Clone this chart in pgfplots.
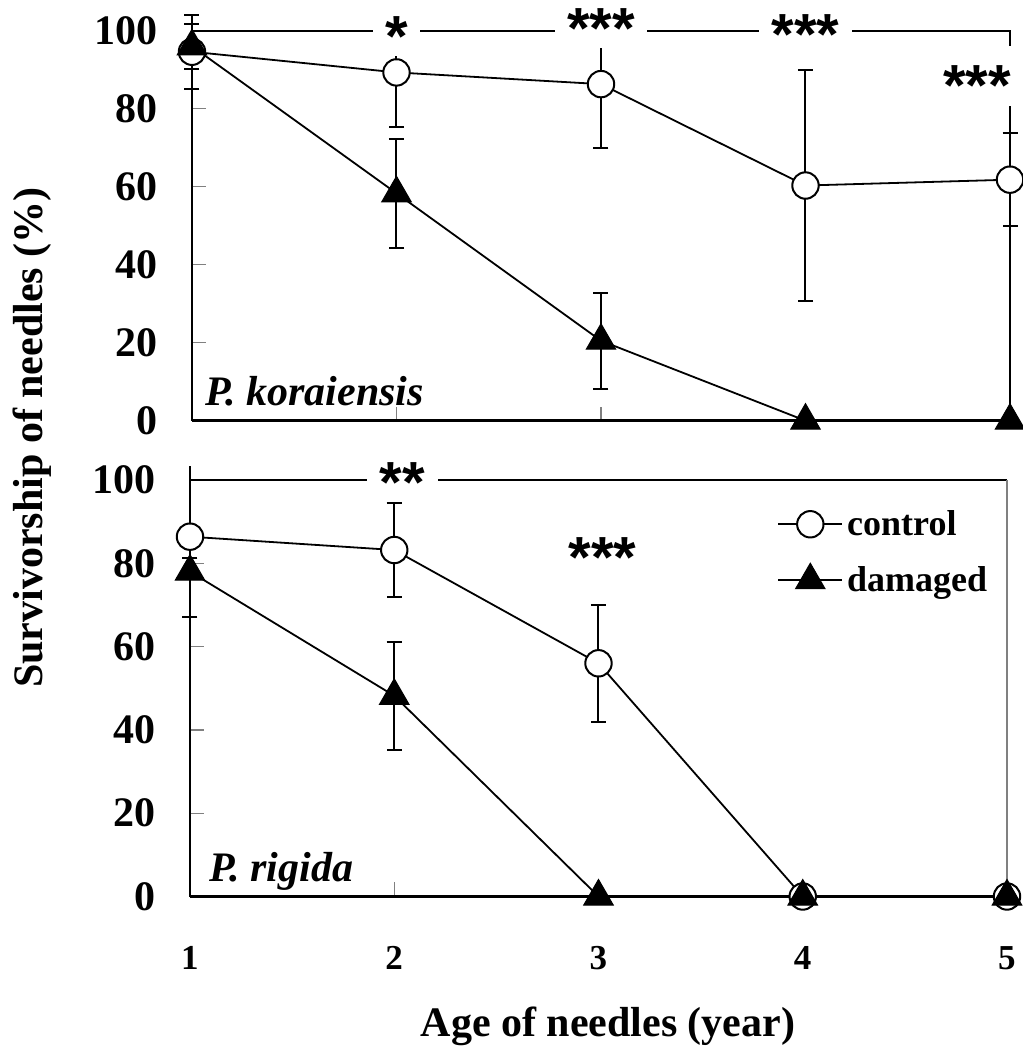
\documentclass[border=0pt]{standalone}
\usepackage{fontspec}
\setmainfont{Liberation Serif}
\newfontfamily\astfont{Liberation Sans}
\usepackage{pgfplots}
\pgfplotsset{compat=1.18}

\pgfplotsset{
  panel/.style={
    scale only axis, width=408.5pt, xmin=1, xmax=5, ymin=0,
    axis lines=left, axis line style={-, line width=1.2pt},
    tick align=inside, xtick={1,2,3,4,5}, ytick={0,20,40,60,80,100},
    xtick pos=left, ytick pos=left,
    tick style={gray, line width=0.6pt},
    major tick length=7pt,
    clip=false,
    /pgf/number format/assume math mode=true,
    yticklabel style={font=\fontsize{21}{25}\selectfont\bfseries, anchor=east, inner sep=0pt, xshift=-17pt},
    xticklabel style={font=\fontsize{17.5}{20}\selectfont\bfseries, anchor=base, inner sep=0pt, yshift=-36.4pt},
  },
  ctrl/.style={black, line width=0.9pt, mark=*, mark size=6.6pt,
    mark options={fill=white, draw=black, line width=1pt},
    legend image code/.code={\draw[mark repeat=2,mark phase=2,##1] plot coordinates {(0pt,0pt)(16pt,0pt)(32pt,0pt)};},
    error bars/.cd, y dir=both, y explicit,
    error bar style={line width=1pt, black},
    error mark options={rotate=90, line width=1pt, mark size=3.75pt, black}},
  dmg/.style={black, line width=0.9pt, mark=triangle*, mark size=8.5pt,
    mark options={fill=black, draw=black, line width=0.5pt},
    legend image code/.code={\draw[mark repeat=2,mark phase=2,##1] plot coordinates {(0pt,0pt)(16pt,0pt)(32pt,0pt)};},
    error bars/.cd, y dir=both, y explicit,
    error bar style={line width=1pt, black},
    error mark options={rotate=90, line width=1pt, mark size=3.75pt, black}},
}
\tikzset{
  ast/.style={font=\astfont\bfseries\fontsize{29}{30}\selectfont, fill=white,
    inner xsep=6.3pt, inner ysep=0pt, text height=30pt, text depth=0pt, yshift=1.3pt},
}

\begin{document}
\begin{tikzpicture}
\useasboundingbox (-95pt,-76.75pt) rectangle (416.5pt,448.25pt);

% ---------------- top panel: P. koraiensis ----------------
\begin{axis}[panel, at={(1pt,237.9pt)}, anchor=south west,
  width=409pt, height=195pt, ymax=100, xticklabels={}]
\draw[line width=0.9pt] (axis cs:1,100) -| (axis cs:5,0);
\addplot[ctrl] coordinates {
  (1,94.6) +- (0,9.5)
  (2,89.3) +- (0,14)
  (3,86.3) +- (0,16.5)
  (4,60.3) +- (0,29.5)
  (5,61.8) +- (0,12)
};
\addplot[dmg] coordinates {
  (1,96) +- (0,5.7)
  (2,58.3) +- (0,14)
  (3,20.5) +- (0,12.3)
  (4,0) +- (0,0)
  (5,0) +- (0,0)
};
\node[ast] at (axis cs:2,100.5) {*};
\node[ast] at (axis cs:3,102.5) {***};
\node[ast] at (axis cs:4,101) {***};
\node[ast] at (axis cs:4.84,87.8) {***};
\node[anchor=base west, font=\fontsize{21}{25}\selectfont\bfseries\itshape] at (axis cs:1.03,3.8) {P. koraiensis};
\end{axis}

% ---------------- bottom panel: P. rigida ----------------
\begin{axis}[panel, at={(0pt,0pt)}, anchor=south west,
  height=215.3pt, ymax=103.4,
  xticklabels={1,2,3,4,5},
  legend style={draw=none, fill=none, at={(axis cs:3.874,93.8)}, anchor=north west,
    font=\fontsize{18}{20}\selectfont\bfseries, row sep=10pt, inner sep=0pt,
    nodes={inner sep=2pt}},
  legend cell align=left]
\draw[line width=0.6pt] (axis cs:1,100) -- (axis cs:5,100);
\draw[gray, line width=0.6pt] (axis cs:5,100) -- (axis cs:5,0);
\addplot[ctrl] coordinates {
  (1,86.4) += (0,0) -= (0,5)
  (2,83.2) +- (0,11.4)
  (3,56) +- (0,14)
  (4,0) +- (0,0)
  (5,0) +- (0,0)
};
\addlegendentry{control}
\addplot[dmg] coordinates {
  (1,78) +- (0,11)
  (2,48.2) +- (0,13)
  (3,0) +- (0,0)
  (4,0) +- (0,0)
  (5,0) +- (0,0)
};
\addlegendentry{damaged}
\node[ast] at (axis cs:2.04,101.2) {**};
\node[ast] at (axis cs:3.02,83.2) {***};
\node[anchor=base west, font=\fontsize{21}{25}\selectfont\bfseries\itshape] at (axis cs:1.06,3.55) {P. rigida};
\end{axis}

\node[rotate=90, font=\fontsize{21}{25}\selectfont\bfseries] at (-78.75pt,229.5pt) {Survivorship of needles (\%)};
\node[anchor=base, font=\fontsize{21}{25}\selectfont\bfseries] at (209pt,-70.1pt) {Age of needles (year)};
\end{tikzpicture}
\end{document}
